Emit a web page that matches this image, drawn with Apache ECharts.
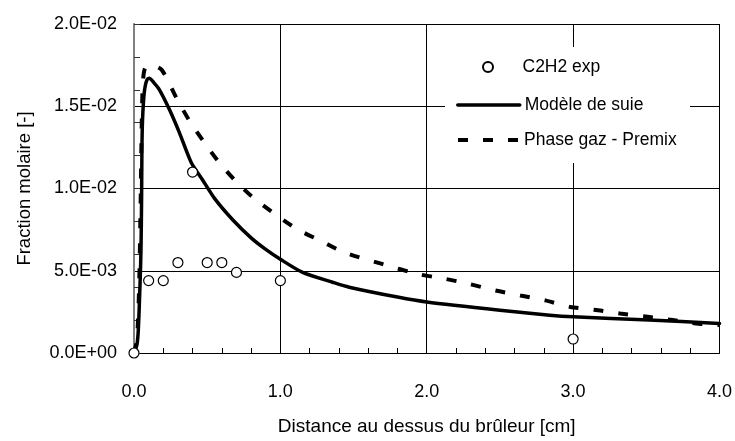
<!DOCTYPE html>
<html>
<head>
<meta charset="utf-8">
<script src="https://cdn.jsdelivr.net/npm/echarts@6/dist/echarts.min.js"></script>
<style>
html,body{margin:0;padding:0;background:#fff;}
#chart{width:735px;height:441px;}
</style>
</head>
<body>
<div id="chart"></div>
<script>
// ---- data ----
const expName = 'C2H2 exp';
const sootName = 'Modèle de suie';
const premixName = 'Phase gaz - Premix';

const expX = [0, 0.1, 0.2, 0.3, 0.4, 0.5, 0.6, 0.7, 1.0, 3.0];
const expY = [0, 0.0044, 0.0044, 0.0055, 0.0110, 0.0055, 0.0055, 0.0049, 0.0044, 0.00085];

const sootX = [0, 0.02, 0.03, 0.042, 0.048, 0.052, 0.054, 0.058, 0.065, 0.074, 0.088, 0.104, 0.135, 0.174, 0.242, 0.31, 0.39, 0.47, 0.55, 0.674, 0.8, 0.9, 1.0, 1.152, 1.357, 1.47, 1.8, 2.0, 2.5, 2.84, 3.0, 3.52, 4.0];
const sootY = [0, 0.0005, 0.0015, 0.0044, 0.0064, 0.0095, 0.0123, 0.0141, 0.0153, 0.0161, 0.0166, 0.0167, 0.01644, 0.0160, 0.0148, 0.0134, 0.0116, 0.0105, 0.0094, 0.0081, 0.0070, 0.0063, 0.0057, 0.0049, 0.0043, 0.0040, 0.0034, 0.0031, 0.0026, 0.0023, 0.0022, 0.0020, 0.0018];

const premixX = [0, 0.02, 0.035, 0.045, 0.052, 0.06, 0.075, 0.12, 0.19, 0.29, 0.38, 0.48, 0.58, 0.70, 0.82, 0.97, 1.12, 1.28, 1.44, 1.70, 1.94, 2.13, 2.29, 2.47, 2.64, 2.81, 2.98, 3.17, 3.32, 3.51, 3.68, 3.86, 4.0];
const premixY = [0, 0.0008, 0.004, 0.009, 0.0135, 0.0163, 0.0173, 0.0175, 0.0172, 0.0155, 0.0141, 0.0128, 0.0116, 0.0104, 0.0094, 0.0084, 0.0075, 0.0068, 0.0061, 0.0054, 0.0048, 0.0045, 0.0042, 0.0038, 0.0035, 0.0032, 0.0028, 0.0026, 0.0024, 0.0022, 0.0020, 0.00178, 0.0017];

const xTicks = [0, 1, 2, 3, 4];
const xTickLabels = ['0.0', '1.0', '2.0', '3.0', '4.0'];
const yTicks = [0, 0.005, 0.01, 0.015, 0.02];
const yTickLabels = ['0.0E+00', '5.0E-03', '1.0E-02', '1.5E-02', '2.0E-02'];

const xTitle = 'Distance au dessus du brûleur [cm]';
const yTitle = 'Fraction molaire [-]';

// ---- helpers ----
const zip = (xs, ys) => xs.map((x, i) => [x, ys[i]]);
const lookup = (ticks, labels) => v => {
  for (let i = 0; i < ticks.length; i++) if (Math.abs(ticks[i] - v) < 1e-9) return labels[i];
  return '';
};

const FONT = "'Liberation Sans', Arial, sans-serif";

const chart = echarts.init(document.getElementById('chart'), null, {renderer: 'canvas'});

const legendText = {fontFamily: FONT, fontSize: 17.5, color: '#000', lineHeight: 22};

chart.setOption({
  backgroundColor: '#fff',
  animation: false,
  textStyle: {fontFamily: FONT},
  grid: {left: 134, right: 14, top: 24, bottom: 85, containLabel: false},
  graphic: [{
    type: 'rect', z: 1,
    shape: {x: 445, y: 47, width: 245, height: 116},
    style: {fill: '#fff'}
  }],
  legend: [
    {data: [expName], left: 482, top: 56, padding: 0, itemWidth: 59, itemHeight: 10, textStyle: legendText, selectedMode: false},
    {data: [sootName], left: 456, top: 94, padding: 0, itemWidth: 62, itemHeight: 10, itemStyle: {opacity: 0}, lineStyle: {width: 3.5, cap: 'round'}, textStyle: legendText, selectedMode: false},
    {data: [premixName], left: 456, top: 129, padding: 0, itemWidth: 61, itemHeight: 10, itemStyle: {opacity: 0}, lineStyle: {width: 4, type: [10, 15]}, textStyle: legendText, selectedMode: false}
  ],
  xAxis: [{
    type: 'value', min: 0, max: 4, interval: 1,
    position: 'bottom',
    name: xTitle, nameLocation: 'middle', nameGap: 64,
    nameTextStyle: {fontFamily: FONT, fontSize: 19, color: '#000'},
    axisLine: {show: true, onZero: false, lineStyle: {color: '#000', width: 1}},
    axisTick: {show: false},
    axisLabel: {formatter: lookup(xTicks, xTickLabels), fontFamily: FONT, fontSize: 18, color: '#000', margin: 30},
    splitLine: {show: true, lineStyle: {color: '#000', width: 1}}
  }, {
    type: 'value', min: 0, max: 4, interval: 0.2,
    position: 'bottom',
    axisLine: {show: false},
    axisTick: {show: true, inside: true, length: 5, lineStyle: {color: '#000', width: 1}},
    axisLabel: {show: false},
    splitLine: {show: false}
  }],
  yAxis: [{
    type: 'value', min: 0, max: 0.02, interval: 0.005,
    position: 'left',
    name: yTitle, nameLocation: 'middle', nameGap: 100,
    nameTextStyle: {fontFamily: FONT, fontSize: 18.5, color: '#000'},
    axisLine: {show: true, onZero: false, lineStyle: {color: '#333', width: 1}},
    axisTick: {show: false},
    axisLabel: {formatter: lookup(yTicks, yTickLabels), fontFamily: FONT, fontSize: 18, color: '#000', margin: 17},
    splitLine: {show: true, lineStyle: {color: '#000', width: 1}}
  }, {
    type: 'value', min: 0, max: 0.02, interval: 0.002,
    position: 'left',
    axisLine: {show: false},
    axisTick: {show: true, inside: true, length: 6, lineStyle: {color: '#333', width: 1}},
    axisLabel: {show: false},
    splitLine: {show: false}
  }, {
    type: 'value', min: 0, max: 0.02,
    position: 'right',
    axisLine: {show: true, lineStyle: {color: '#808080', width: 2}},
    axisTick: {show: false},
    axisLabel: {show: false},
    splitLine: {show: false}
  }],
  series: [
    {
      name: sootName, type: 'line', xAxisIndex: 0, yAxisIndex: 0,
      data: zip(sootX, sootY), showSymbol: false, symbol: 'none', smooth: 0.25,
      lineStyle: {color: '#000', width: 3.5, cap: 'round', join: 'round'},
      itemStyle: {color: '#000'}, z: 3
    },
    {
      name: premixName, type: 'line', xAxisIndex: 0, yAxisIndex: 0,
      data: zip(premixX, premixY), showSymbol: false, symbol: 'none', smooth: 0.25,
      lineStyle: {color: '#000', width: 4, type: [10, 15], cap: 'butt'},
      itemStyle: {color: '#000'}, z: 3
    },
    {
      name: expName, type: 'scatter', xAxisIndex: 0, yAxisIndex: 0,
      data: zip(expX, expY), symbol: 'circle', symbolSize: 10,
      itemStyle: {color: '#fff', borderColor: '#000', borderWidth: 1.2, opacity: 1},
      z: 5
    }
  ]
});
</script>
</body>
</html>
